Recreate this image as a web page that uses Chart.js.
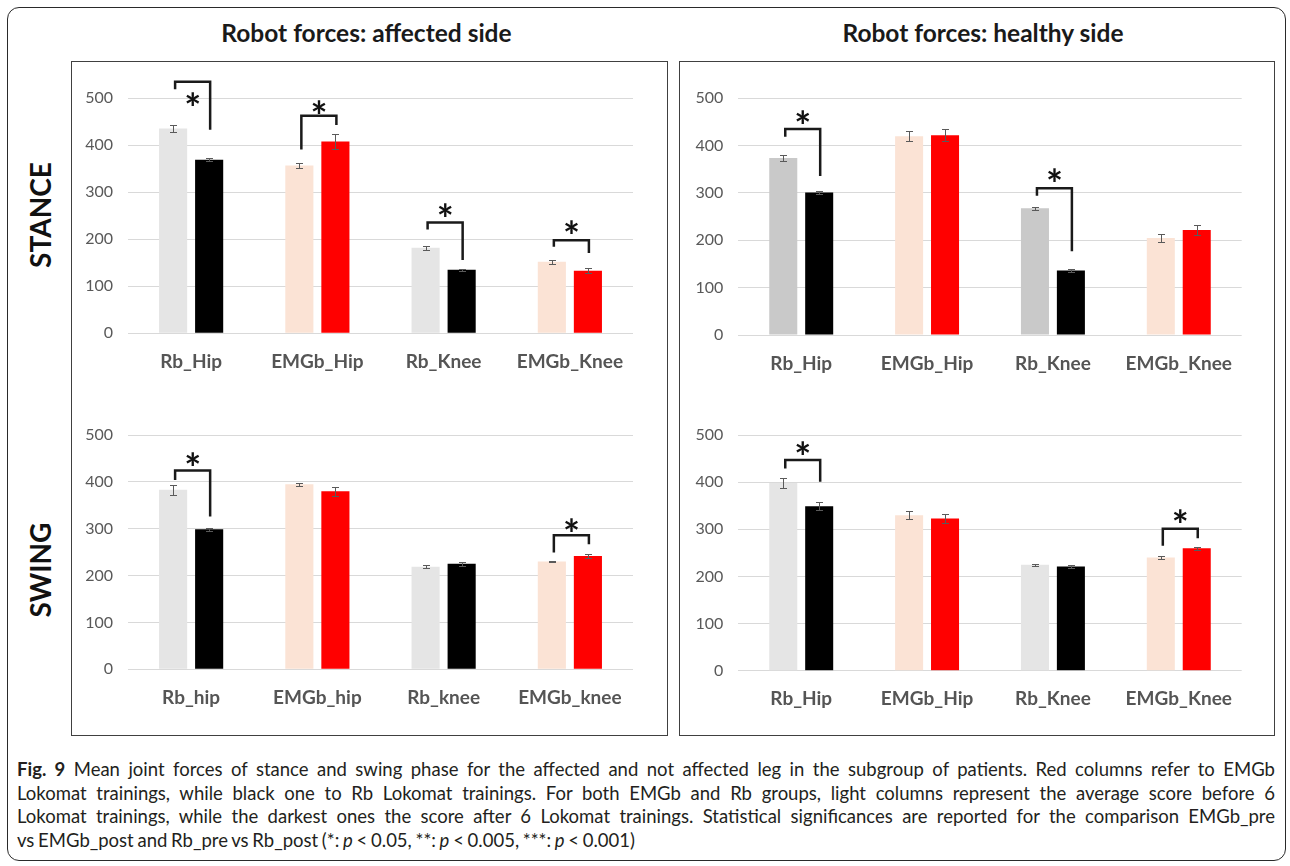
<!DOCTYPE html>
<html>
<head>
<meta charset="utf-8">
<script src="https://cdn.jsdelivr.net/npm/chart.js@4.4.1/dist/chart.umd.min.js"></script>
<style>
  html, body { margin:0; padding:0; background:#fff; }
  body { width:1290px; height:866px; position:relative; overflow:hidden; font-family: Lato, sans-serif; }
  .frame { position:absolute; left:7px; top:7px; width:1279px; height:854px; border:1.5px solid #2a2a2a; border-radius:12px; box-sizing:border-box; }
  .panel { position:absolute; top:61px; height:675px; border:1.5px solid #404040; box-sizing:border-box; }
  .title { position:absolute; top:18px; line-height:30px; font: bold 24.5px Lato, sans-serif; color:#1a1a1a; text-align:center; }
  .rowlab { position:absolute; left:40px; font: bold 28px Lato, sans-serif; color:#111; transform: translate(-50%,-50%) rotate(-90deg); white-space:nowrap; }
  canvas { position:absolute; }
  .caption { position:absolute; left:17px; width:1258px; top:758px; font-size:18.5px; color:#231f20; line-height:23.5px; }
  .caption div { text-align: justify; text-align-last: justify; }
  .caption div.last { text-align-last: left; word-spacing: -1px; }
</style>
</head>
<body>
<div class="frame"></div>
<div class="panel" style="left:71px; width:597px;"></div>
<div class="panel" style="left:679px; width:596px;"></div>
<div class="title" style="left:68px; width:597px;">Robot forces: affected side</div>
<div class="title" style="left:685px; width:596px;">Robot forces: healthy side</div>
<div class="rowlab" style="top:215px;">STANCE</div>
<div class="rowlab" style="top:570px;">SWING</div>

<canvas id="stanceAffected" width="592" height="330" style="left:73px; top:63px;"></canvas>
<canvas id="stanceHealthy" width="591" height="330" style="left:681px; top:63px;"></canvas>
<canvas id="swingAffected" width="592" height="330" style="left:73px; top:400px;"></canvas>
<canvas id="swingHealthy" width="591" height="330" style="left:681px; top:400px;"></canvas>

<div class="caption">
  <div><b>Fig. 9</b> Mean joint forces of stance and swing phase for the affected and not affected leg in the subgroup of patients. Red columns refer to EMGb</div>
  <div>Lokomat trainings, while black one to Rb Lokomat trainings. For both EMGb and Rb groups, light columns represent the average score before 6</div>
  <div>Lokomat trainings, while the darkest ones the score after 6 Lokomat trainings. Statistical significances are reported for the comparison EMGb_pre</div>
  <div class="last">vs EMGb_post and Rb_pre vs Rb_post (*: <i>p</i> &lt; 0.05, **: <i>p</i> &lt; 0.005, ***: <i>p</i> &lt; 0.001)</div>
</div>

<script>
// ----------------- Data -----------------
const labelsUpper = ['Rb_Hip', 'EMGb_Hip', 'Rb_Knee', 'EMGb_Knee'];
const labelsLower = ['Rb_hip', 'EMGb_hip', 'Rb_knee', 'EMGb_knee'];
const yTicks = [0, 100, 200, 300, 400, 500];

// stance, affected side
const stanceAffectedPre = [436, 357, 182, 152];
const stanceAffectedPost = [369, 408, 135, 133];
const stanceAffectedPreErr = [8, 5, 4, 5];
const stanceAffectedPostErr = [3, 15, 2, 5];
// [category, left leg end, bracket top, right leg end, asterisk] in force units
const stanceAffectedSig = [[0, 519, 535, 433, 498], [1, 391, 463, 443, 482], [2, 221, 236, 156, 262], [3, 184, 198, 171, 227]];

// stance, healthy side
const stanceHealthyPre = [374, 420, 268, 205];
const stanceHealthyPost = [301, 422, 136, 222];
const stanceHealthyPreErr = [7, 11, 3, 9];
const stanceHealthyPostErr = [3, 13, 3, 10];
const stanceHealthySig = [[0, 419, 435, 336, 461], [2, 294, 310, 177, 338]];

// swing, affected side
const swingAffectedPre = [383, 395, 219, 230];
const swingAffectedPost = [299, 380, 225, 242];
const swingAffectedPreErr = [10, 3, 3, 2];
const swingAffectedPostErr = [3, 10, 4, 4];
const swingAffectedSig = [[0, 404, 424, 326, 448], [3, 249, 286, 267, 308]];

// swing, healthy side
const swingHealthyPre = [398, 330, 225, 240];
const swingHealthyPost = [349, 323, 221, 260];
const swingHealthyPreErr = [10, 9, 2, 3];
const swingHealthyPostErr = [8, 10, 4, 3];
const swingHealthySig = [[0, 429, 447, 401, 472], [3, 265, 301, 281, 329]];

// ----------------- Plugins -----------------
const errorBars = {
  id: 'errorBars',
  afterDatasetsDraw(chart) {
    const ctx = chart.ctx, y = chart.scales.y;
    ctx.save();
    ctx.strokeStyle = '#5a5a5a';
    ctx.lineWidth = 1;
    chart.data.datasets.forEach((ds, di) => {
      chart.getDatasetMeta(di).data.forEach((bar, i) => {
        const v = ds.data[i], e = ds.errors[i];
        const x = Math.round(bar.x) + 0.5;
        const y1 = Math.round(y.getPixelForValue(v + e)) + 0.5;
        const y2 = Math.round(y.getPixelForValue(v - e)) + 0.5;
        ctx.beginPath();
        ctx.moveTo(x, y1); ctx.lineTo(x, y2);
        ctx.moveTo(x - 3.5, y1); ctx.lineTo(x + 3.5, y1);
        ctx.moveTo(x - 3.5, y2); ctx.lineTo(x + 3.5, y2);
        ctx.stroke();
      });
    });
    ctx.restore();
  }
};

const sigBrackets = {
  id: 'sigBrackets',
  afterDraw(chart, args, opts) {
    const ctx = chart.ctx, y = chart.scales.y;
    const pre = chart.getDatasetMeta(0).data, post = chart.getDatasetMeta(1).data;
    ctx.save();
    (opts.marks || []).forEach(([cat, yl, yt, yr, ys]) => {
      const xl = pre[cat].x + 2, xr = post[cat].x + 1;
      const top = y.getPixelForValue(yt);
      ctx.beginPath();
      ctx.moveTo(xl, y.getPixelForValue(yl));
      ctx.lineTo(xl, top);
      ctx.lineTo(xr, top);
      ctx.lineTo(xr, y.getPixelForValue(yr));
      ctx.lineWidth = 2.5;
      ctx.strokeStyle = '#1a1a1a';
      ctx.lineJoin = 'miter';
      ctx.stroke();
      ctx.fillStyle = '#111';
      ctx.font = 'bold 40px Lato';
      ctx.textAlign = 'center';
      ctx.textBaseline = 'middle';
      ctx.fillText('*', (xl + xr) / 2, y.getPixelForValue(ys) + 11);
    });
    ctx.restore();
  }
};

// ----------------- Charts -----------------
// area = target chart area in page pixels
function makeChart(id, labels, pre, post, preErr, postErr, sig, rbLight, area) {
  const canvas = document.getElementById(id);
  const L = parseFloat(canvas.style.left), T = parseFloat(canvas.style.top);
  const W = canvas.width, H = canvas.height;
  const emgLight = '#fbe3d5';
  return new Chart(canvas, {
    type: 'bar',
    data: {
      labels: labels,
      datasets: [
        { data: pre, errors: preErr, backgroundColor: [rbLight, emgLight, rbLight, emgLight] },
        { data: post, errors: postErr, backgroundColor: ['#000000', '#ff0000', '#000000', '#ff0000'] }
      ]
    },
    options: {
      responsive: false,
      animation: false,
      devicePixelRatio: 1,
      categoryPercentage: 0.571,
      barPercentage: 0.78,
      layout: { padding: { top: area.top - T, right: L + W - area.right, left: 0, bottom: 0 } },
      plugins: { legend: { display: false }, tooltip: { enabled: false }, sigBrackets: { marks: sig } },
      scales: {
        x: {
          grid: { display: false },
          border: { display: false },
          ticks: { color: '#555555', font: { family: 'Lato', size: 19, weight: 'bold' }, padding: 9, maxRotation: 0 },
          afterFit: s => { s.height = T + H - area.bottom; }
        },
        y: {
          min: yTicks[0], max: yTicks[yTicks.length - 1],
          afterBuildTicks: s => { s.ticks = yTicks.map(v => ({ value: v })); },
          grid: { color: '#d9d9d9', lineWidth: 1, drawTicks: false },
          border: { display: false },
          ticks: { color: '#595959', font: { family: 'Lato', size: 16 }, padding: 15 },
          afterFit: s => { s.width = area.left - L; }
        }
      }
    },
    plugins: [errorBars, sigBrackets]
  });
}

makeChart('stanceAffected', labelsUpper, stanceAffectedPre, stanceAffectedPost, stanceAffectedPreErr, stanceAffectedPostErr, stanceAffectedSig, '#e5e5e5',
  { left: 128, right: 633, top: 98.3, bottom: 333.3 });
makeChart('stanceHealthy', labelsUpper, stanceHealthyPre, stanceHealthyPost, stanceHealthyPreErr, stanceHealthyPostErr, stanceHealthySig, '#c9c9c9',
  { left: 738.3, right: 1241.7, top: 98.3, bottom: 335 });
makeChart('swingAffected', labelsLower, swingAffectedPre, swingAffectedPost, swingAffectedPreErr, swingAffectedPostErr, swingAffectedSig, '#e5e5e5',
  { left: 128, right: 633, top: 435, bottom: 669.3 });
makeChart('swingHealthy', labelsUpper, swingHealthyPre, swingHealthyPost, swingHealthyPreErr, swingHealthyPostErr, swingHealthySig, '#e5e5e5',
  { left: 738.3, right: 1241.7, top: 435, bottom: 670.7 });
</script>
</body>
</html>
